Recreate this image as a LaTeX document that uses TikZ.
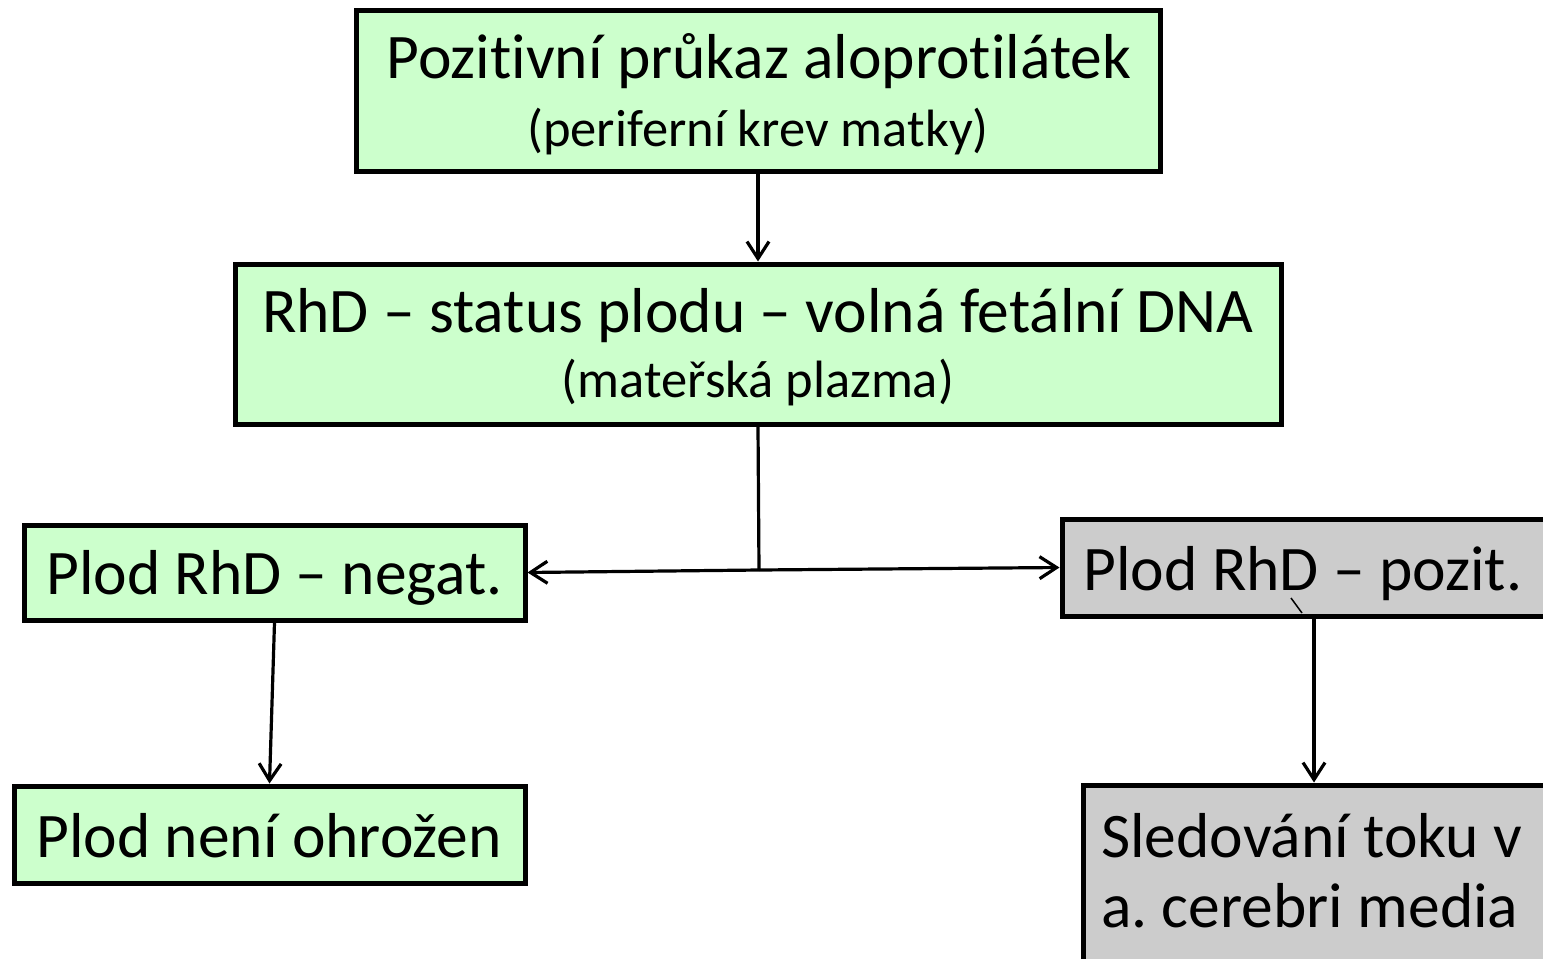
\documentclass[tikz,border=0pt]{standalone}
\usepackage{fontspec}
\setmainfont[Ligatures=NoCommon]{Carlito}
\usetikzlibrary{arrows.meta}
\definecolor{boxgreen}{HTML}{CCFFCC}
\definecolor{boxgray}{HTML}{CCCCCC}
\frenchspacing
\tikzset{
  box/.style={draw=black, line width=5pt, rectangle, inner sep=0pt},
  gbox/.style={box, fill=boxgreen},
  ybox/.style={box, fill=boxgray},
  big/.style={inner sep=0pt, anchor=base, font=\fontsize{63.5}{70}\selectfont},
  small/.style={inner sep=0pt, anchor=base, font=\fontsize{52.5}{60}\selectfont},
  conn/.style={line width=3.2pt, draw=black},
  arr/.style={conn, -{Straight Barb[length=17pt,width=22pt,line width=3.2pt]}}
}
\begin{document}
\begin{tikzpicture}[x=1pt,y=-1pt]
\useasboundingbox (0,0) rectangle (1543,959);
\clip (0,0) rectangle (1543,959);
% boxes
\node[gbox, minimum width=804pt, minimum height=161pt] (top) at (758,90.5) {};
\node[gbox, minimum width=1046pt, minimum height=160pt] (mid) at (758,344) {};
\node[gbox, minimum width=501pt, minimum height=95pt] (neg) at (274.5,572.5) {};
\node[ybox, minimum width=504pt, minimum height=97pt] (pos) at (1314,567.5) {};
\node[gbox, minimum width=511pt, minimum height=97pt] (safe) at (269.5,834.5) {};
\node[ybox, minimum width=480pt, minimum height=220pt] (mca) at (1323,895) {};
% texts
\node[big] (t1) at (759,78) {Pozitivní průkaz aloprotilátek};
\node[small] (t2) at (758,146) {(periferní krev matky)};
\node[big] (t3) at (758,332) {RhD – status plodu – volná fetální DNA};
\node[small] (t4) at (758,397) {(mateřská plazma)};
\node[big] (t5) at (274.5,594) {Plod RhD – negat.};
\node[big] (t6) at (1303,590) {Plod RhD – pozit.};
\node[big] (t7) at (269,857) {Plod není ohrožen};
\node[big, anchor=base west] (t8) at (1101,857) {Sledování toku v};
\node[big, anchor=base west] (t9) at (1101,927) {a. cerebri media};
% connectors
\coordinate (j) at (759,570);
\draw[arr] (top.south) -- (mid.north);
\draw[conn] (mid.south) -- (j);
\draw[arr] (j) -- (neg.east);
\draw[arr] (j) -- (pos.west);
\draw[arr] (neg.south) -- (safe.north);
\draw[arr] (pos.south) -- (pos.south |- mca.north);
% stray tick
\coordinate (s1) at (1291,598);
\coordinate (s2) at (1302,613);
\draw[line width=1.5pt] (s1) -- (s2);
\end{tikzpicture}
\end{document}
